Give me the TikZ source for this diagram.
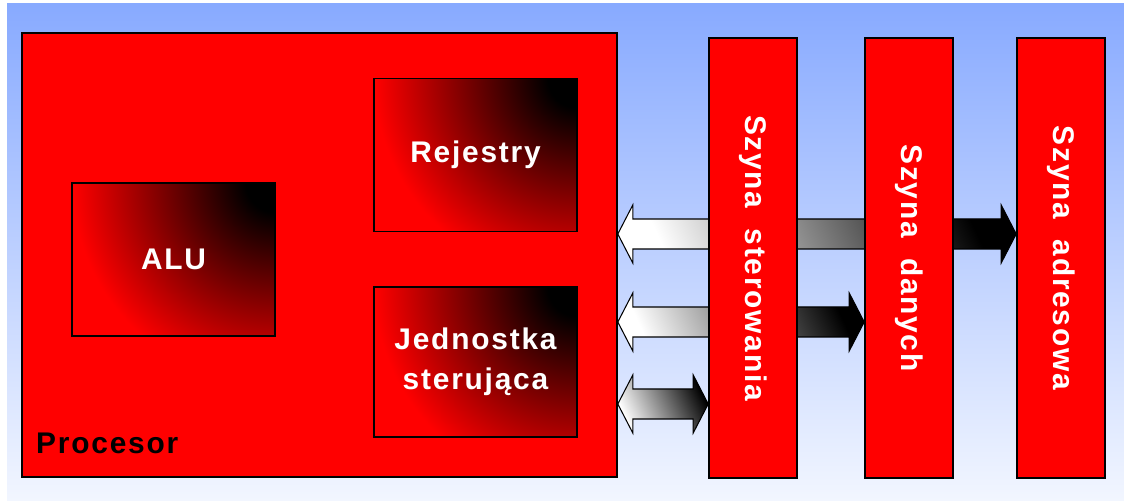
\documentclass[tikz,border=0pt]{standalone}
\usepackage{fontspec}
\setmainfont{Liberation Sans}[LetterSpace=6]
\usetikzlibrary{calc}

\definecolor{skytop}{RGB}{136,170,255}
\definecolor{skybottom}{RGB}{242,246,255}
\definecolor{cpured}{RGB}{255,0,0}

% black in the top right corner fading out to red
\pgfdeclareradialshading{cornerglow}{\pgfpoint{0bp}{0bp}}{color(0bp)=(black); color(2.8bp)=(black); color(19.5bp)=(cpured); color(50bp)=(cpured)}

\pgfdeclarelayer{sky}
\pgfdeclarelayer{links}
\pgfsetlayers{sky,links,main}

\tikzset{
  unit/.style={draw=black, line width=0.9pt, fill=cpured, text=white,
    minimum width=4.06cm, minimum height=3.06cm, inner sep=0pt, align=center,
    font=\bfseries\fontsize{17}{23}\selectfont,
    path picture={\shade[shading=cornerglow] (path picture bounding box.north east) circle (5.2cm);}},
  bus/.style={draw=black, line width=0.9pt, fill=cpured, text=white,
    minimum width=1.76cm, minimum height=8.8cm, inner sep=0pt,
    font=\bfseries\fontsize{17}{20}\selectfont},
  busarrow/.style={draw=black, line width=0.6pt, left color=white, right color=black, shading angle=115}
}

% double block arrow at height #1 between two boxes
\newcommand\busarrow[3]{%
  \draw[busarrow] let \p1=(#2.east), \p2=(#3.west) in
    (\x1,#1) -- (\x1+0.3cm,#1+0.58cm) -- (\x1+0.3cm,#1+0.3cm) -- (\x2-0.3cm,#1+0.3cm)
    -- (\x2-0.3cm,#1+0.58cm) -- (\x2,#1) -- (\x2-0.3cm,#1-0.58cm) -- (\x2-0.3cm,#1-0.3cm)
    -- (\x1+0.3cm,#1-0.3cm) -- (\x1+0.3cm,#1-0.58cm) -- cycle;}

\begin{document}
\begin{tikzpicture}
    \useasboundingbox (0,0) rectangle (22.48,10.02);
    \begin{pgfonlayer}{sky}
        \shade[top color=skytop, bottom color=skybottom] (0.14,0) rectangle (22.48,9.94);
    \end{pgfonlayer}

    % processor and its parts
    \node[draw=black, line width=0.9pt, fill=cpured, minimum width=11.9cm, minimum height=8.88cm, inner sep=0pt] (cpu) at (6.39,4.92) {};
    \node[anchor=base west, font=\bfseries\fontsize{17}{20}\selectfont] (cpulabel) at (0.6,0.94) {Procesor};

    \node[unit] (reg) at (9.51,6.92) {Rejestry};
    \node[unit] (alu) at (3.47,4.83) {ALU};
    \node[unit, minimum height=3cm] (cu) at (9.51,2.78) {Jednostka\\sterująca};

    % buses
    \node[bus] (ctrl) at (15.06,4.86) {\rotatebox{-90}{Szyna~~sterowania}};
    \node[bus] (data) at (18.18,4.86) {\rotatebox{-90}{Szyna~~danych}};
    \node[bus] (addr) at (21.22,4.86) {\rotatebox{-90}{Szyna~~adresowa}};

    \begin{pgfonlayer}{links}
        \busarrow{5.34cm}{cpu}{addr}
        \busarrow{3.58cm}{cpu}{data}
        \busarrow{1.94cm}{cpu}{ctrl}
    \end{pgfonlayer}
\end{tikzpicture}
\end{document}
